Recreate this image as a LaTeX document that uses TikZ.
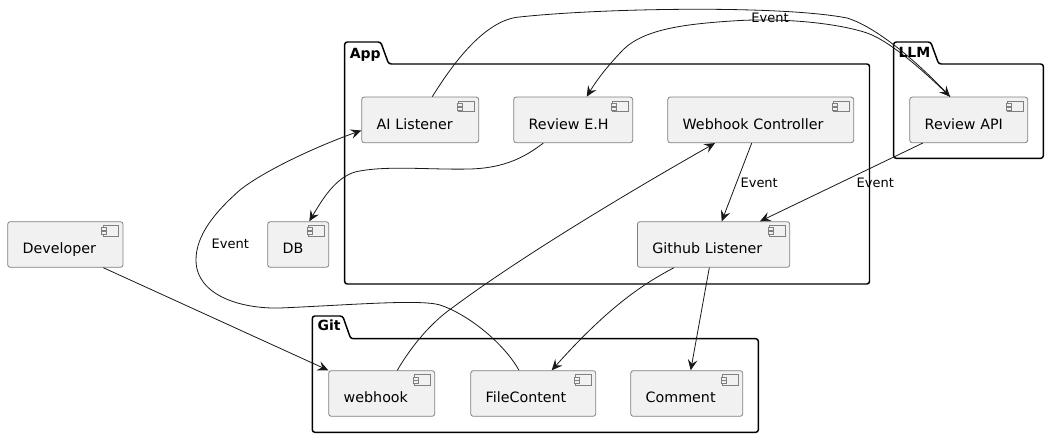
\documentclass[tikz,border=0pt]{standalone}
\usepackage{fontspec}
\setmainfont{DejaVu Sans}
\usetikzlibrary{arrows.meta}
\definecolor{compfill}{HTML}{F1F1F1}
\definecolor{compline}{HTML}{808080}
\definecolor{edgeline}{HTML}{181818}
\tikzset{
  comp/.style={draw=compline,fill=compfill,line width=.6pt,rounded corners=1.9pt,anchor=north west,
    font=\fontsize{10.7pt}{12pt}\selectfont,align=left,inner xsep=11.25pt,inner ysep=0pt,
    text width=#1*.75pt-22.5pt,text height=24pt,text depth=10.2pt},
  pkg/.style={draw=black,line width=1.1pt,rounded corners=1.9pt},
  pkglabel/.style={anchor=base west,inner sep=0pt,font=\fontsize{10.5pt}{12pt}\selectfont\bfseries},
  elabel/.style={inner sep=0pt,font=\fontsize{9.75pt}{12pt}\selectfont},
  conn/.style={draw=edgeline,line width=.6pt,>={Stealth[inset=3pt,length=8pt,width=7.2pt]}},
}
\begin{document}
\begin{tikzpicture}[x=.75pt,y=-.75pt]
\useasboundingbox (0,0) rectangle (1049,438);
\draw[pkg] (344.7,64) -- (344.7,284) -- (869.5,284) -- (869.5,64) -- (388.7,64) -- (380.7,42) -- (344.7,42) -- cycle;
\draw[pkg] (893.7,64) -- (893.7,158.3) -- (1043.3,158.3) -- (1043.3,64) -- (938.7,64) -- (930.7,42) -- (893.7,42) -- cycle;
\draw[pkg] (312.3,338.7) -- (312.3,432.3) -- (758.3,432.3) -- (758.3,338.7) -- (350.7,338.7) -- (342.7,316) -- (312.3,316) -- cycle;
\node[pkglabel] (applabel) at (349.5,58.3) {App};
\node[pkglabel] (llmlabel) at (898.3,57.5) {LLM};
\node[pkglabel] (gitlabel) at (317.3,330.7) {Git};
\node[comp=115.3] (developer) at (7.3,221.3) {Developer};
\node[comp=61] (db) at (267.3,221.3) {DB};
\node[comp=117] (ailistener) at (361.3,96.7) {AI Listener};
\node[comp=119] (revieweh) at (513.3,96.7) {Review E.H};
\node[comp=186] (webhookctl) at (667.3,96.7) {Webhook Controller};
\node[comp=118] (reviewapi) at (909.3,96.7) {Review API};
\node[comp=152.3] (githublistener) at (637,221.3) {Github Listener};
\node[comp=106] (webhook) at (328.3,370.3) {webhook};
\node[comp=125] (filecontent) at (470.3,370.3) {FileContent};
\node[comp=112] (comment) at (630.3,370.3) {Comment};
\foreach \n in {developer,db,ailistener,revieweh,webhookctl,reviewapi,githublistener,webhook,filecontent,comment} {
  \draw[draw=compline,line width=.6pt] ([shift={(-20.3,4.3)}]\n.north east) rectangle ([shift={(-4.6,15)}]\n.north east);
  \draw[draw=compline,fill=compfill,line width=.6pt] ([shift={(-22,6.6)}]\n.north east) rectangle ([shift={(-17,9.6)}]\n.north east);
  \draw[draw=compline,fill=compfill,line width=.6pt] ([shift={(-22,10.3)}]\n.north east) rectangle ([shift={(-17,13.3)}]\n.north east);
}
\draw[conn,->] ([shift={(96,0)}]developer.south west) -- (webhook.north west);
\draw[conn,->] ([shift={(71,0)}]ailistener.north west) .. controls (455,60) and (485,22) .. (516.7,17.3) .. controls (600,8) and (780,5) .. (847,18) .. controls (880,28) and (925,70) .. ([shift={(40.7,0)}]reviewapi.north west);
\draw[conn,->] ([shift={(40.7,0)}]reviewapi.north west) .. controls (925,72) and (890,41) .. (867,33) .. controls (840,24) and (790,18) .. (740,20.5) .. controls (680,24) and (640,30) .. (620,53) .. controls (608,66) and (598,78) .. ([shift={(73.4,0)}]revieweh.north west);
\draw[conn,->] ([shift={(30,0)}]revieweh.south west) .. controls (525,157) and (505,168) .. (470,169) .. controls (430,170) and (385,165) .. (355,172) .. controls (335,178) and (322,200) .. ([shift={(42,0)}]db.north west);
\draw[conn,->] ([shift={(69,0)}]webhook.north west) .. controls (412,345) and (432,322) .. (452,308) .. controls (530,250) and (650,180) .. ([shift={(47.7,0)}]webhookctl.south west);
\draw[conn,->] ([shift={(48.7,0)}]filecontent.north west) .. controls (505,345) and (470,315) .. (440,305) .. controls (420,299) and (350,305) .. (280,308) .. controls (240,309) and (196,295) .. (196,260) .. controls (196,235) and (215,212) .. (240,190) .. controls (265,170) and (320,145) .. ([shift={(0,33.8)}]ailistener.north west);
\draw[conn,->] ([shift={(84.4,0)}]webhookctl.south west) -- ([shift={(84.7,0)}]githublistener.north west);
\draw[conn,->] ([shift={(13.4,0)}]reviewapi.south west) -- ([shift={(123,0)}]githublistener.north west);
\draw[conn,->] ([shift={(37,0)}]githublistener.south west) .. controls (645,283) and (610,305) .. ([shift={(81.4,0)}]filecontent.north west);
\draw[conn,->] ([shift={(72.3,0)}]githublistener.south west) -- ([shift={(60.4,0)}]comment.north west);
\node[elabel] (eventapi) at (770,17.5) {Event};
\node[elabel] (eventctl) at (759.2,182.7) {Event};
\node[elabel] (eventgit) at (875.3,182.7) {Event};
\node[elabel] (eventfile) at (230.3,244.3) {Event};
\end{tikzpicture}
\end{document}
